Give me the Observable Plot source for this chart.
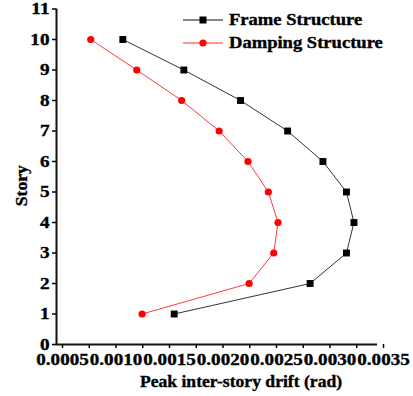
<!DOCTYPE html>
<html><head><meta charset="utf-8">
<script src="https://cdn.jsdelivr.net/npm/d3@7"></script>
<script src="https://cdn.jsdelivr.net/npm/@observablehq/plot@0.6"></script>
<style>
body{margin:0;background:#fff;}
#wrap{position:relative;width:413px;height:396px;overflow:hidden;}
#wrap svg text{stroke:#000;stroke-width:0.35px;}
.leg{position:absolute;left:183px;height:20px;display:flex;align-items:center;font:bold 16px "Liberation Serif",serif;color:#000;white-space:nowrap;-webkit-text-stroke:0.35px #000;}
.leg svg{flex:none;}
.leg span{display:inline-block;margin-left:6px;transform:scaleX(1.16);transform-origin:left center;}
</style></head><body><div id="wrap"></div>
<script>
// ---- data ----
const stories = [1, 2, 3, 4, 5, 6, 7, 8, 9, 10];
const frameDrift = [0.00160, 0.00287, 0.00321, 0.00328, 0.00321, 0.00299, 0.00266, 0.00222, 0.00169, 0.00112];
const dampingDrift = [0.00130, 0.00230, 0.00253, 0.00257, 0.00248, 0.00229, 0.00202, 0.00167, 0.00125, 0.00082];
const seriesNames = ["Frame Structure", "Damping Structure"];
const seriesColors = ["#000000", "#ff0000"];
const xMajorTicks = [0.0005, 0.0010, 0.0015, 0.0020, 0.0025, 0.0030, 0.0035];
const xAllTicks = [0.0005, 0.00075, 0.0010, 0.00125, 0.0015, 0.00175, 0.0020, 0.00225, 0.0025, 0.00275, 0.0030, 0.00325, 0.0035];
const yTicks = [0, 1, 2, 3, 4, 5, 6, 7, 8, 9, 10, 11];
const xTitle = "Peak inter-story drift (rad)";
const yTitle = "Story";

const frame = stories.map((s, i) => ({story: s, drift: frameDrift[i]}));
const damping = stories.map((s, i) => ({story: s, drift: dampingDrift[i]}));
const fmt = d3.format(".4f");
const isMajor = d => xMajorTicks.some(m => Math.abs(m - d) < 1e-9);

const chart = Plot.plot({
  width: 413,
  height: 396,
  marginLeft: 56,
  marginRight: 36,
  marginTop: 8.5,
  marginBottom: 52,
  style: {fontFamily: "'Liberation Serif', serif", fontWeight: "bold", fontSize: "16px", color: "#000", background: "#fff"},
  x: {domain: [0.0005, 0.0035]},
  y: {domain: [0, 11]},
  marks: [
    Plot.axisX({ticks: xAllTicks, tickSize: 4, tickPadding: 5, strokeWidth: 1.5, dx: 6,
      tickFormat: d => isMajor(d) ? fmt(d) : "", label: null}),
    Plot.axisY({ticks: yTicks, tickSize: 4, tickPadding: 3, strokeWidth: 1.5, tickFormat: d => String(d), label: null}),
    Plot.ruleY([0], {strokeWidth: 2, stroke: "#111"}),
    Plot.ruleX([0.0005], {strokeWidth: 2, stroke: "#111"}),
    Plot.line(frame, {x: "drift", y: "story", stroke: "#333", strokeWidth: 1}),
    Plot.dot(frame, {x: "drift", y: "story", symbol: "square", r: 3.9, fill: seriesColors[0], stroke: "none"}),
    Plot.line(damping, {x: "drift", y: "story", stroke: "#ff3a3a", strokeWidth: 1}),
    Plot.dot(damping, {x: "drift", y: "story", symbol: "circle", r: 3.6, fill: seriesColors[1], stroke: "none"}),
    Plot.text([xTitle], {text: d => d, frameAnchor: "bottom", dx: 24, dy: 37.5, lineAnchor: "middle", fontSize: 16, fontWeight: "bold"}),
    Plot.text([yTitle], {text: d => d, frameAnchor: "left", dx: -35, dy: 9, rotate: -90, lineAnchor: "middle", textAnchor: "middle", fontSize: 16, fontWeight: "bold"})
  ]
});

const wrap = document.getElementById("wrap");
wrap.appendChild(chart);

// horizontally widen the serif text to match the reference's wide rendering
function stretch(sel, f) {
  chart.querySelectorAll(sel).forEach(t => {
    const len = t.getComputedTextLength();
    if (len > 0) {
      t.setAttribute("textLength", (len * f).toFixed(2));
      t.setAttribute("lengthAdjust", "spacingAndGlyphs");
    }
  });
}
stretch('g[aria-label="x-axis tick label"] text', 1.19);
stretch('g[aria-label="y-axis tick label"] text', 1.2);
stretch('g[aria-label="text"] text', 1.1);

// legend
const legendTops = [10, 33];
seriesNames.forEach((name, i) => {
  const div = document.createElement("div");
  div.className = "leg";
  div.style.top = legendTops[i] + "px";
  const sym = i === 0
    ? `<rect x="16.5" y="6.5" width="7" height="7" fill="${seriesColors[0]}"/>`
    : `<circle cx="20" cy="10" r="3.6" fill="${seriesColors[1]}"/>`;
  div.innerHTML = `<svg width="40" height="20"><line x1="0" x2="40" y1="10" y2="10" stroke="${i === 0 ? "#111" : "#ff2a2a"}" stroke-width="1"/>${sym}</svg><span>${name}</span>`;
  wrap.appendChild(div);
});
</script>
</body></html>
